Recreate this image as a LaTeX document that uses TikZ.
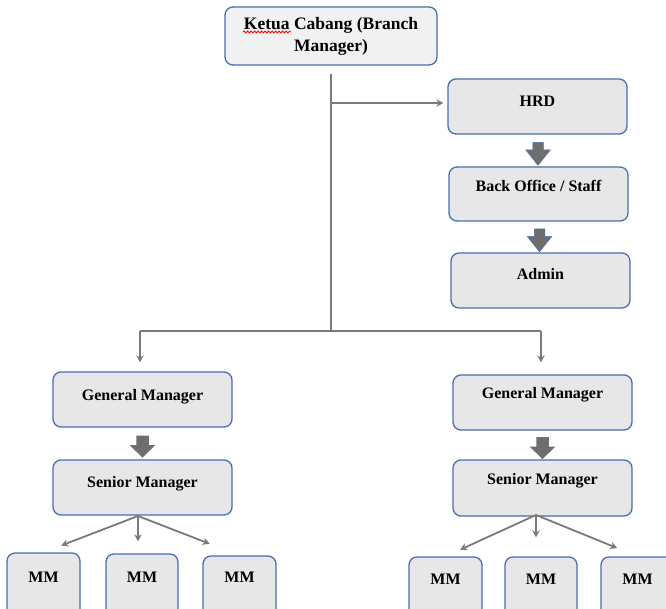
\documentclass[tikz,border=0pt]{standalone}
\usepackage{fontspec}
\setmainfont{Liberation Serif}
\usetikzlibrary{shapes.arrows,arrows.meta,calc,decorations.pathmorphing}
\definecolor{boxline}{HTML}{4A6FAE}
\definecolor{boxfill}{HTML}{E7E7E7}
\definecolor{topfill}{HTML}{F1F1F1}
\definecolor{linkgray}{HTML}{7A7A7A}
\definecolor{blockgray}{HTML}{6E6E6E}

\begin{document}
\begin{tikzpicture}[x=1pt,y=-1pt,
  orgbox/.style n args={3}{draw=boxline, line width=1.3pt, fill=boxfill,
    rounded corners=8pt, inner sep=0pt, minimum width=#1,
    text height=#2, text depth=#3, anchor=base,
    font=\fontsize{16}{19}\selectfont\bfseries},
  link/.style={draw=linkgray, line width=2pt},
  arr/.style={link, -{Stealth[length=7pt,width=7.5pt]}},
  fanarr/.style={arr, line width=1.8pt},
  flow/.style={single arrow, draw=boxline, line width=0.5pt, fill=blockgray,
    rotate=-90, minimum height=23pt, minimum width=24pt,
    text height=10pt, text depth=0pt, text width=0pt,
    single arrow head extend=7pt, single arrow head indent=0pt,
    single arrow tip angle=77, inner sep=0pt},
]
\useasboundingbox (0,0) rectangle (666,609);
\clip (0,0) rectangle (666,609);
\fill[white] (0,0) rectangle (666,609);

% top of the chart
\node[draw=boxline, line width=1.3pt, fill=topfill, rounded corners=8pt,
  minimum width=212pt, minimum height=58pt, align=center,
  font=\fontsize{17.5}{22}\selectfont\bfseries] (head) at (331,36)
  {Ketua Cabang (Branch\\Manager)};
\draw[red, line width=0.8pt, decorate,
  decoration={snake, amplitude=1pt, segment length=3.5pt}] (243,32) -- (291,32);

% staff column
\node[orgbox={179pt}{28pt}{27pt}] (hrd) at (537.5,107) {HRD};
\node[orgbox={179pt}{25pt}{29pt}] (office) at (538.5,192) {Back Office / Staff};
\node[orgbox={179pt}{27pt}{28pt}] (admin) at (540.5,280) {Admin};

% line management, left and right
\node[orgbox={179pt}{28pt}{27pt}] (gmL) at (142.5,400) {General Manager};
\node[orgbox={179pt}{27pt}{28pt}] (smL) at (142.5,487) {Senior Manager};
\node[orgbox={179pt}{23pt}{32pt}] (gmR) at (542.5,398) {General Manager};
\node[orgbox={179pt}{24pt}{32pt}] (smR) at (542.5,484) {Senior Manager};

\node[orgbox={73pt}{29pt}{40pt}] (mmL1) at (43.5,582) {MM};
\node[orgbox={72pt}{28pt}{40pt}] (mmL2) at (142,582) {MM};
\node[orgbox={73pt}{26pt}{40pt}] (mmL3) at (239.5,582) {MM};
\node[orgbox={73pt}{27pt}{40pt}] (mmR1) at (445.5,584) {MM};
\node[orgbox={72pt}{27pt}{40pt}] (mmR2) at (541,584) {MM};
\node[orgbox={73pt}{27pt}{40pt}] (mmR3) at (637.5,584) {MM};

% block arrows
\node[flow] (f1) at ($(hrd.south)!0.5!(office.north)$) {};
\node[flow] (f2) at ($(office.south)!0.5!(admin.north)$) {};
\node[flow, draw=none, minimum height=22pt, minimum width=25pt,
  text height=12pt, single arrow head extend=6.5pt, single arrow tip angle=92]
  (f3) at ($(gmL.south)!0.5!(smL.north)$) {};
\node[flow, draw=none, minimum height=22pt, minimum width=25pt,
  text height=12pt, single arrow head extend=6.5pt, single arrow tip angle=92]
  (f4) at ($(gmR.south)!0.5!(smR.north)$) {};

% connectors
\coordinate (split) at (331,331);
\coordinate (tapL) at (140,331);
\coordinate (tapR) at (541,331);
\coordinate (tapH) at (331,103);
\draw[link] ([yshift=-8pt]head.south) -- (split);
\draw[link] (tapL) -- (tapR);
\draw[arr, shorten >=4pt] (tapH) -- (tapH -| hrd.west);
\draw[arr, shorten >=9pt] (tapL) -- (tapL |- gmL.north);
\draw[arr, shorten >=12pt] (tapR) -- (tapR |- gmR.north);

\coordinate (fanL) at (138,516);
\draw[fanarr, shorten >=19pt] (fanL) -- (mmL1.north);
\draw[fanarr, shorten >=12pt] (fanL) -- (fanL |- mmL2.north);
\draw[fanarr, shorten >=32pt] (fanL) -- (mmL3.north);
\coordinate (fanR) at (536,515);
\draw[fanarr, shorten >=16pt] (fanR) -- (mmR1.north);
\draw[fanarr, shorten >=19pt] (fanR) -- (fanR |- mmR2.north);
\draw[fanarr, shorten >=22pt] (fanR) -- (mmR3.north);
\end{tikzpicture}
\end{document}
